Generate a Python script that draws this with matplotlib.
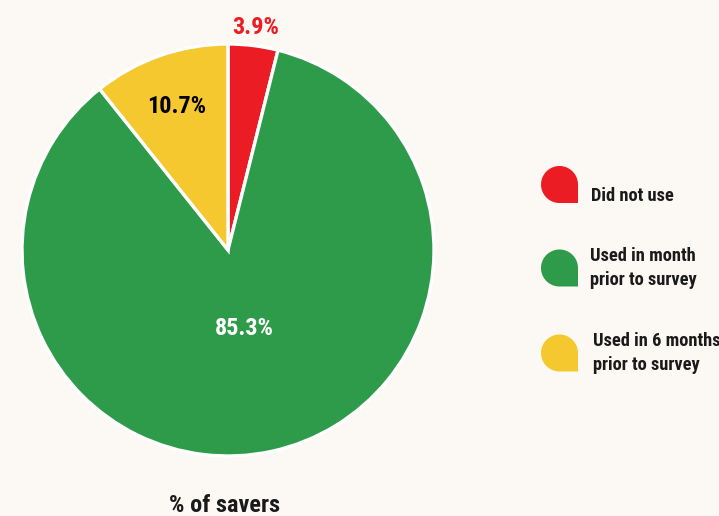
import numpy as np
import matplotlib
matplotlib.use("Agg")
import matplotlib.pyplot as plt
from matplotlib.path import Path
from matplotlib.patches import PathPatch
import matplotlib.transforms as mtransforms

# Data
categories = ["Did not use", "Used in month\nprior to survey", "Used in 6 months\nprior to survey"]
shares = [3.9, 85.3, 10.7]
colors = ["#ec1c24", "#2e9b4a", "#f5c830"]
label_colors = ["#ec1c24", "white", "black"]
label_radius = [1.10, 0.38, 0.75]
chart_title = "% of savers"

BG = "#fcf8f3"
W, H = 719, 516
plt.rcParams["font.family"] = ["Roboto Condensed", "Liberation Sans Narrow", "DejaVu Sans"]
plt.rcParams["font.stretch"] = "condensed"
plt.rcParams["font.weight"] = "bold"

fig = plt.figure(figsize=(W / 100, H / 100), dpi=100, facecolor=BG)

# Pie axes placed by pixel geometry
cx, cy, R = 228, 250, 206
ax = fig.add_axes([(cx - R) / W, (H - cy - R) / H, 2 * R / W, 2 * R / H])
ax.set_facecolor(BG)
wedges, _ = ax.pie(shares, colors=colors, startangle=90, counterclock=False,
                   wedgeprops=dict(edgecolor="white", linewidth=2.4))
ax.set_xlim(-1, 1)
ax.set_ylim(-1, 1)
ax.set_aspect("equal")
ax.axis("off")

for w, v, c, r in zip(wedges, shares, label_colors, label_radius):
    mid = np.deg2rad((w.theta1 + w.theta2) / 2)
    ax.text(r * np.cos(mid), r * np.sin(mid) - 0.012, f"{v}%", color=c,
            fontsize=17.5, fontweight="bold", ha="center", va="center")

# Legend with teardrop markers (rounded except bottom-right corner)
arc = Path.arc(0, 270)
verts = np.vstack([arc.vertices, [[1, -1], [1, 0], [1, 0]]])
codes = list(arc.codes) + [Path.LINETO, Path.LINETO, Path.CLOSEPOLY]
drop = Path(verts, codes)

marker_y = [184.5, 268, 353]
text_x = [591, 590, 593]
text_y = [196, 268, 353]
mr = 18.5
for y, tx, ty, col, lab in zip(marker_y, text_x, text_y, colors, categories):
    tr = mtransforms.Affine2D().scale(mr).translate(559.5, H - y)
    fig.patches.append(PathPatch(drop, facecolor=col, edgecolor="none",
                                 transform=tr, figure=fig))
    fig.text(tx / W, 1 - ty / H, lab, fontsize=13.2, fontweight="bold",
             color="#1a1a1a", ha="left", va="center", linespacing=1.45)

fig.text(225 / W, 1 - 505 / H, chart_title, fontsize=17.5, fontweight="bold",
         color="#1a1a1a", ha="center", va="center")

fig.savefig("out.png", dpi=100, facecolor=BG)
